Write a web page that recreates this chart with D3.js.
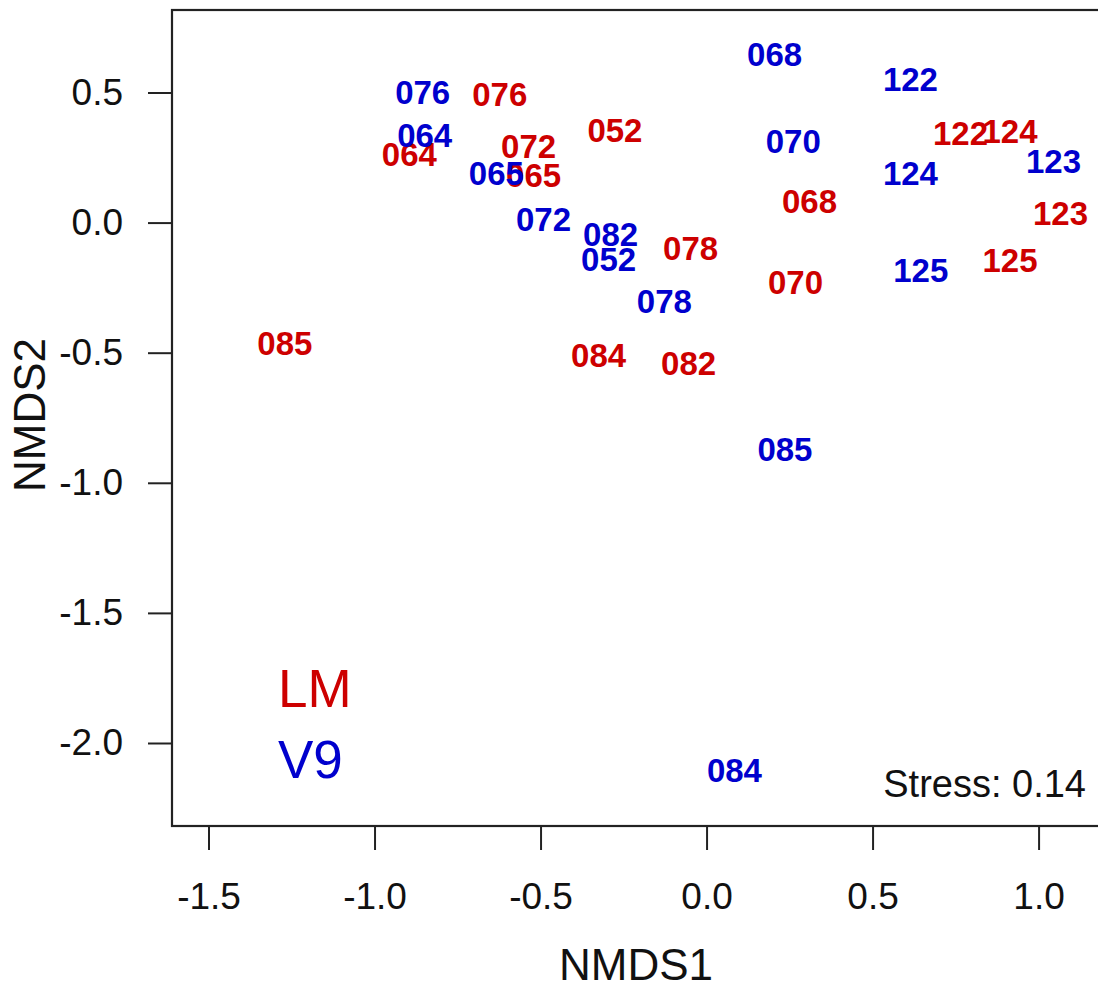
<!DOCTYPE html>
<html>
<head>
<meta charset="utf-8">
<script src="https://cdn.jsdelivr.net/npm/d3@7"></script>
<style>
  html, body { margin: 0; padding: 0; background: #fff; }
  svg { display: block; }
  text { font-family: "Liberation Sans", Arial, sans-serif; }
</style>
</head>
<body>
<svg id="chart" width="1098" height="988"></svg>
<script>
// ---- data ----
const sampleIds = ["052","064","065","068","070","072","076","078","082","084","085","122","123","124","125"];
const lmX = [-0.276,-0.895,-0.521, 0.310, 0.268,-0.536,-0.623,-0.048,-0.054,-0.325,-1.270, 0.765, 1.066, 0.914, 0.914];
const lmY = [ 0.355, 0.265, 0.183, 0.081,-0.227, 0.292, 0.492,-0.100,-0.542,-0.509,-0.465, 0.342, 0.038, 0.350,-0.144];
const v9X = [-0.295,-0.849,-0.633, 0.205, 0.261,-0.491,-0.855,-0.127,-0.289, 0.084, 0.236, 0.614, 1.045, 0.614, 0.645];
const v9Y = [-0.142, 0.338, 0.192, 0.646, 0.313, 0.012, 0.500,-0.300,-0.046,-2.106,-0.870, 0.553, 0.238, 0.192,-0.183];
const xTicks = [-1.5,-1.0,-0.5,0.0,0.5,1.0];
const yTicks = [0.5,0.0,-0.5,-1.0,-1.5,-2.0];
const groupNames = ["LM","V9"];
const groupColors = ["#CD0000","#0000CD"];
const stressLabel = "Stress: 0.14";

// ---- layout ----
const svg = d3.select("#chart");
const mLeft = 172, mTop = 10, mRight = 1100, mBottom = 826;
const x = d3.scaleLinear().domain([-1.610, 1.185]).range([mLeft, mRight]);
const y = d3.scaleLinear().domain([-2.319, 0.817]).range([mBottom, mTop]);

// axes
const fmt = d => d3.format(".1f")(d).replace("\u2212", "-");
const xAxis = d3.axisBottom(x).tickValues(xTicks).tickSize(24).tickPadding(33).tickFormat(fmt);
const yAxis = d3.axisLeft(y).tickValues(yTicks).tickSize(24).tickPadding(25).tickFormat(fmt);

const gx = svg.append("g").attr("transform", `translate(0,${mBottom})`).call(xAxis);
const gy = svg.append("g").attr("transform", `translate(${mLeft},0)`).call(yAxis);
[gx, gy].forEach(g => {
  g.select(".domain").remove();
  g.selectAll(".tick line").attr("stroke", "#222").attr("stroke-width", 2);
  g.selectAll(".tick text").attr("font-size", 37).attr("fill", "#111")
    .attr("font-family", "Liberation Sans, Arial, sans-serif");
});

// box
svg.append("rect").attr("x", mLeft).attr("y", mTop)
  .attr("width", mRight - mLeft).attr("height", mBottom - mTop)
  .attr("fill", "none").attr("stroke", "#222").attr("stroke-width", 2.2);

// axis titles
svg.append("text").attr("x", (mLeft + mRight) / 2).attr("y", 980)
  .attr("text-anchor", "middle").attr("font-size", 44).attr("fill", "#111").text("NMDS1");
svg.append("text").attr("transform", "translate(45,415) rotate(-90)")
  .attr("text-anchor", "middle").attr("font-size", 44).attr("fill", "#111").text("NMDS2");

// points as labels
const groups = [
  { xs: lmX, ys: lmY, color: groupColors[0] },
  { xs: v9X, ys: v9Y, color: groupColors[1] }
];
groups.forEach(gr => {
  svg.append("g").selectAll("text")
    .data(sampleIds.map((id, i) => ({ id, vx: gr.xs[i], vy: gr.ys[i] })))
    .join("text")
    .attr("x", d => x(d.vx))
    .attr("y", d => y(d.vy))
    .attr("dy", "0.36em")
    .attr("text-anchor", "middle")
    .attr("font-size", 33)
    .attr("font-weight", "bold")
    .attr("fill", gr.color)
    .text(d => d.id);
});

// legend
svg.append("g").selectAll("text").data(groupNames).join("text")
  .attr("x", 278).attr("y", (d, i) => 707 + i * 71)
  .attr("font-size", 53).attr("fill", (d, i) => groupColors[i]).text(d => d);

// stress
svg.append("text").attr("x", 1086).attr("y", 797).attr("text-anchor", "end")
  .attr("font-size", 38).attr("fill", "#111").text(stressLabel);
</script>
</body>
</html>
